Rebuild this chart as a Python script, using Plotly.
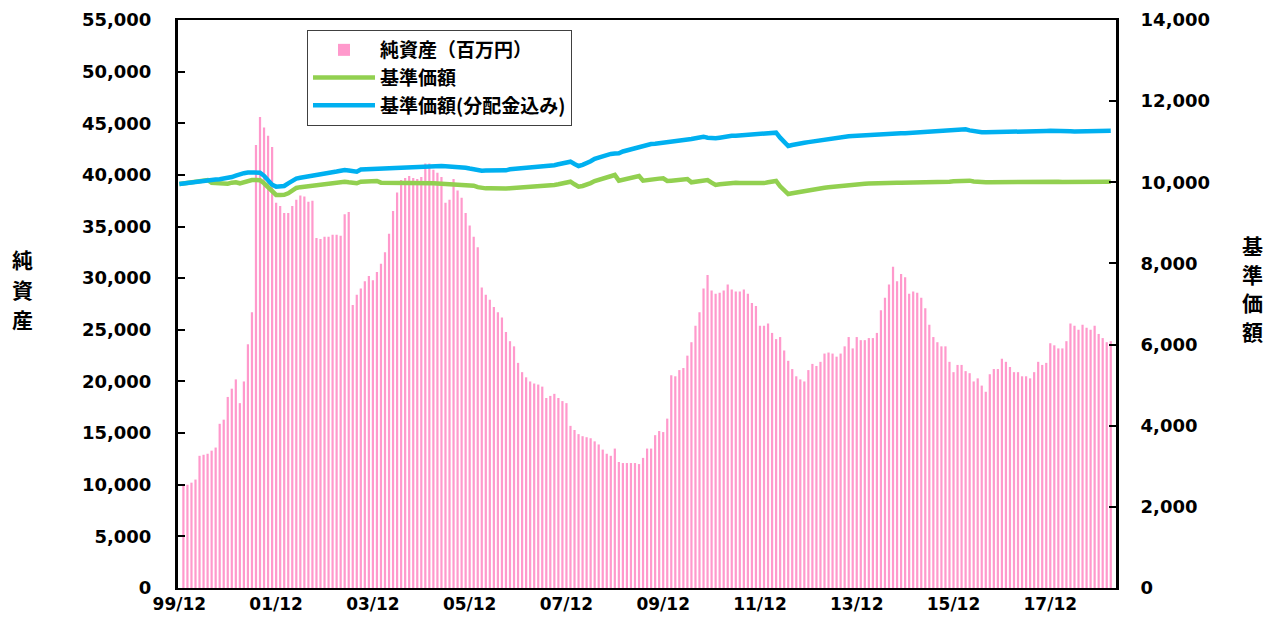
import plotly.graph_objects as go

# ---- data -------------------------------------------------------------
tick_labels = ["99/12", "01/12", "03/12", "05/12", "07/12", "09/12",
               "11/12", "13/12", "15/12", "17/12"]
tick_index = [-1, 23, 47, 71, 95, 119, 143, 167, 191, 215]   # month index (0 = 2000/01)

# 純資産（百万円） monthly, 2000/01 .. 2019/03
net_assets = [
    9900, 10000, 10200, 10500, 12800, 12900, 13000, 13300, 13600, 15900,
    16300, 18500, 19300, 20200, 17900, 20000, 23600, 26700, 42900, 45600,
    44600, 43800, 42700, 37300, 37000, 36300, 36300, 37000, 37600, 38000,
    37900, 37400, 37500, 33900, 33800, 34000, 34000, 34200, 34200,
    34100, 36200, 36400, 27400, 28400, 29000, 29700, 30200, 29800, 30600,
    31400, 32500, 34300, 36500, 38300, 39500, 39700, 39900, 39700, 39600,
    39800, 41100, 41100, 40500, 40200, 39800, 37300, 37600, 39600, 38500,
    37800, 36300, 35100, 34000, 33000, 29100, 28400, 27900, 27200,
    26700, 26200, 24800, 23900, 23400, 21800, 20900, 20400, 20000, 19800,
    19700, 19500, 18400, 18600, 18800, 18400, 18100, 17900, 15700, 15300,
    14900, 14700, 14600, 14500, 14200, 13900, 13400, 13000, 12800, 13500,
    12200, 12100, 12100, 12100, 12100, 12000, 12600, 13500, 13500,
    14800, 15200, 15100,
    16400, 20600, 20500, 21100, 21300, 22500, 23800, 25400, 26700, 29000,
    30300, 28800, 28500, 28600, 28800, 29400, 28900, 28700, 28700, 28900,
    28500, 27600, 27300, 25400, 25400, 25600, 24700, 24100, 24300, 23000,
    22000, 21200, 20500, 20200, 20000,
    21100, 21700, 21500, 21900, 22700, 22800, 22700, 22400, 22700, 23400,
    24300, 23200, 24300, 24000, 24000, 24200, 24200, 24700, 26900, 28100,
    29400, 31100, 29700, 30400, 30100, 28500, 28700, 28600, 28100, 27100,
    25500, 24300, 23800, 23400, 23400, 21900, 20900, 21600, 21600, 21000,
    20800, 20000, 20300, 19600, 19000, 20700, 21200, 21200, 22200, 21900,
    21400, 20900, 20900, 20500, 20500, 20300, 20900, 21900, 21600, 21800,
    23700, 23500, 23200, 23200, 23900, 25600, 25400, 25000, 25500, 25200,
    25000, 25400, 24600, 24200, 23800, 23900,
]

# 基準価額(分配金込み) monthly, 1999/12 .. 2019/03
nav_with_dist = [
    9960, 9975, 9990, 10000, 10015, 10030, 10040, 10056, 10065, 10070,
    10075, 10085, 10098, 10130, 10165, 10200, 10225, 10240, 10246, 10245,
    10238, 10160, 10060, 9940, 9893, 9905, 9909, 9975, 10040, 10090,
    10110, 10125, 10138, 10150, 10175, 10190, 10205, 10225, 10246, 10265,
    10285, 10303, 10290, 10270, 10262, 10315, 10320, 10325, 10330, 10338,
    10344, 10348, 10352, 10355, 10360, 10362, 10368, 10372, 10378, 10385,
    10388, 10392, 10395, 10398, 10402, 10400, 10395, 10392, 10390, 10385,
    10375, 10360, 10340, 10320, 10300, 10287, 10290, 10290, 10280, 10278,
    10278, 10295, 10320, 10328, 10335, 10342, 10346, 10350, 10355, 10362,
    10369, 10380, 10400, 10420, 10443, 10465, 10490, 10508, 10450, 10402,
    10430, 10468, 10520, 10580, 10616, 10650, 10690, 10700, 10710, 10714,
    10760, 10790, 10820, 10850, 10870, 10895, 10915, 10944, 10950, 10960,
    10970, 10980, 10990, 11005, 11015, 11026, 11045, 11065, 11085, 11105,
    11124, 11100, 11090, 11084, 11100, 11120, 11141, 11145, 11150, 11155,
    11160, 11166, 11172, 11180, 11188, 11192, 11205, 11215, 11223, 11100,
    11000, 10894, 10920, 10945, 10961, 10975, 10990, 11005, 11025, 11045,
    11059, 11075, 11090, 11110, 11124, 11130, 11136, 11142, 11149, 11158,
    11166, 11174, 11182, 11188, 11195, 11200, 11207, 11207, 11207, 11207,
    11207, 11212, 11218, 11225, 11231, 11232, 11236, 11240, 11244, 11248,
    11255, 11262, 11270, 11285, 11295, 11306, 11280, 11255, 11240, 11231,
    11231, 11235, 11231, 11231, 11240, 11248, 11255, 11260, 11265, 11265,
    11268, 11265, 11270, 11268, 11265, 11265, 11268, 11270, 11268, 11262,
    11258, 11255, 11250, 11250, 11248, 11252, 11255, 11258, 11262, 11265,
    11268, 11270,
]

# 基準価額 monthly, 1999/12 .. 2019/03
nav = [
    9960, 9975, 9990, 10000, 10015, 10030, 10040, 10056, 9985, 9975,
    9965, 9958, 9965, 9990, 10000, 9975, 10010, 10040, 10056, 10055,
    10050, 9975, 9880, 9760, 9687, 9687, 9690, 9728, 9800, 9860,
    9880, 9895, 9909, 9920, 9935, 9945, 9955, 9970, 9980, 9995,
    10005, 10015, 10000, 9980, 9975, 10015, 10020, 10025, 10030, 10032,
    9991, 9991, 9992, 9991, 9991, 9993, 9995, 9997, 9999, 9999,
    9990, 9985, 9980, 9975, 9970, 9965, 9958, 9958, 9958, 9958,
    9950, 9940, 9930, 9917, 9880, 9852, 9850, 9852, 9845, 9835,
    9835, 9845, 9852, 9858, 9865, 9872, 9876, 9880, 9885, 9890,
    9893, 9905, 9920, 9935, 9950, 9970, 9995, 10015, 9950, 9893,
    9910, 9933, 9980, 10030, 10056, 10090, 10123, 10150, 10180, 10040,
    10060, 10082, 10110, 10140, 10155, 10040, 10056, 10082, 10085, 10090,
    10098, 10032, 10040, 10050, 10060, 10073, 10080, 10000, 10020, 10040,
    10050, 10056, 9990, 9933, 9950, 9965, 9980, 9991, 9988, 9982,
    9978, 9975, 9972, 9970, 9975, 9980, 10000, 10025, 10032, 9900,
    9800, 9711, 9730, 9750, 9768, 9785, 9800, 9815, 9835, 9855,
    9867, 9880, 9892, 9905, 9917, 9925, 9932, 9940, 9950, 9956,
    9962, 9968, 9975, 9978, 9982, 9986, 9991, 9991, 9991, 9991,
    9991, 9993, 9995, 9997, 9999, 9999, 9999, 9999, 9999, 9999,
    10005, 10015, 10025, 10035, 10045, 10056, 10040, 10020, 10005, 10000,
    10000, 10003, 10005, 10008, 10010, 10012, 10013, 10015, 10015, 10015,
    10016, 10015, 10017, 10015, 10015, 10015, 10015, 10014, 10012, 10010,
    10008, 10005, 10002, 10000, 9999, 10002, 10005, 10008, 10010, 10012,
    10013, 10015,
]

left_title = ["純", "資", "産"]
right_title = ["基", "準", "価", "額"]

bar_x = list(range(0, len(net_assets)))
line_x = list(range(-1, len(nav) - 1))

# ---- figure -----------------------------------------------------------
NUM_FONT = "DejaVu Sans"
JP_FONT = "Noto Sans CJK JP"
W, H = 1271, 618
ML, MR, MT, MB = 178, 155, 20, 30
PW, PH = W - ML - MR, H - MT - MB


def px_x(x):
    return (x - ML) / PW


def px_y(y):
    return (H - MB - y) / PH


fig = go.Figure()
fig.add_trace(go.Bar(
    x=bar_x, y=net_assets, name="純資産（百万円）",
    marker=dict(color="#FF99CC", line=dict(width=0)),
    yaxis="y",
))
fig.add_trace(go.Scatter(
    x=line_x, y=nav, name="基準価額", mode="lines",
    line=dict(color="#92D050", width=4.5),
    yaxis="y2",
))
fig.add_trace(go.Scatter(
    x=line_x, y=nav_with_dist, name="基準価額(分配金込み)", mode="lines",
    line=dict(color="#00B0F0", width=4.5),
    yaxis="y2",
))

annotations = []
for i, ch in enumerate(left_title):
    annotations.append(dict(
        text=ch, xref="paper", yref="paper",
        x=px_x(22), y=px_y(259 + 30 * i), xanchor="center", yanchor="middle",
        showarrow=False,
        font=dict(family=JP_FONT, size=21, color="black", weight="bold")))
for i, ch in enumerate(right_title):
    annotations.append(dict(
        text=ch, xref="paper", yref="paper",
        x=px_x(1252), y=px_y(245 + 28.5 * i), xanchor="center", yanchor="middle",
        showarrow=False,
        font=dict(family=JP_FONT, size=21, color="black", weight="bold")))

fig.update_layout(
    width=W, height=H,
    margin=dict(l=ML, r=MR, t=MT, b=MB, autoexpand=False),
    paper_bgcolor="white", plot_bgcolor="white",
    bargap=0.45,
    showlegend=True,
    legend=dict(
        x=px_x(307), y=px_y(30), xanchor="left", yanchor="top",
        bgcolor="white", bordercolor="#404040", borderwidth=1,
        font=dict(family=JP_FONT, size=19, color="black", weight="bold"),
        tracegroupgap=0, itemwidth=62,
    ),
    xaxis=dict(
        range=[-1.34, 231.3], automargin=False,
        tickmode="array", tickvals=tick_index, ticktext=tick_labels,
        showline=True, linecolor="black", linewidth=2, mirror=True,
        ticks="", showgrid=False, zeroline=False,
        tickfont=dict(family=NUM_FONT, size=17, color="black", weight="bold"),
    ),
    yaxis=dict(
        range=[0, 55000], dtick=5000, tickformat=",", automargin=False,
        showline=True, linecolor="black", linewidth=3,
        ticks="inside", ticklen=7, tickwidth=1.5, tickcolor="black",
        showgrid=False, zeroline=False, ticklabelstandoff=20,
        tickfont=dict(family=NUM_FONT, size=18, color="black", weight="bold"),
    ),
    yaxis2=dict(
        range=[0, 14000], dtick=2000, tickformat=",", automargin=False,
        overlaying="y", side="right",
        showline=True, linecolor="black", linewidth=3,
        ticks="inside", ticklen=7, tickwidth=1.5, tickcolor="black",
        showgrid=False, zeroline=False, ticklabelstandoff=18,
        tickfont=dict(family=NUM_FONT, size=18, color="black", weight="bold"),
    ),
    annotations=annotations,
)

fig.write_html(
    "out.html",
    config={"displayModeBar": False},
    post_script="document.body.style.margin='0px';document.body.style.overflow='hidden';",
)
